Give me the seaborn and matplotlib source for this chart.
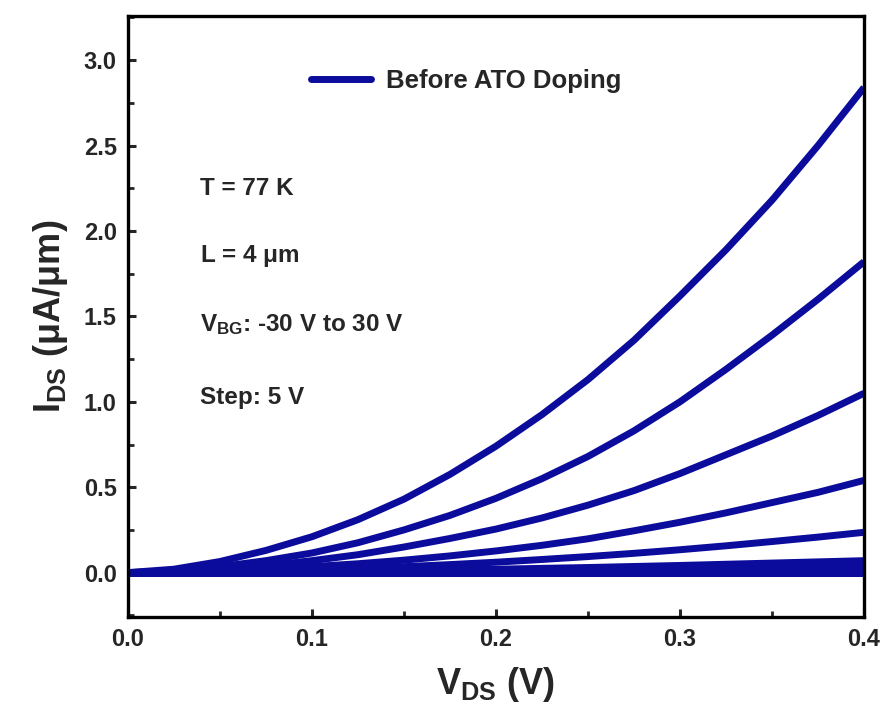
import numpy as np
import pandas as pd
import matplotlib
matplotlib.use("Agg")
import matplotlib.pyplot as plt
from matplotlib.lines import Line2D
from matplotlib.ticker import MultipleLocator, FormatStrFormatter
import seaborn as sns

# ---- data ----
vds = [0, 0.025, 0.05, 0.075, 0.1, 0.125, 0.15, 0.175, 0.2, 0.225, 0.25,
       0.275, 0.3, 0.325, 0.35, 0.375, 0.4]
vbg_values = [30, 25, 20, 15, 10, 5, 0, -5, -10, -15, -20, -25, -30]
ids_30 = [0, 0.02, 0.065, 0.13, 0.21, 0.31, 0.43, 0.575, 0.74, 0.925, 1.13, 1.36, 1.62, 1.89, 2.18, 2.50, 2.84]
ids_25 = [0, 0.01, 0.035, 0.07, 0.115, 0.175, 0.25, 0.335, 0.435, 0.55, 0.68, 0.83, 1.00, 1.19, 1.39, 1.60, 1.82]
ids_20 = [0, 0.005, 0.018, 0.04, 0.07, 0.105, 0.15, 0.20, 0.255, 0.32, 0.395, 0.48, 0.58, 0.69, 0.80, 0.92, 1.05]
ids_15 = [0, 0.003, 0.01, 0.02, 0.035, 0.052, 0.073, 0.098, 0.127, 0.16, 0.198, 0.245, 0.295, 0.35, 0.41, 0.47, 0.54]
ids_10 = [0, 0.001, 0.005, 0.01, 0.017, 0.025, 0.035, 0.047, 0.061, 0.077, 0.094, 0.113, 0.134, 0.157, 0.182, 0.208, 0.236]
ids_5 = [0, 0, 0.002, 0.004, 0.006, 0.009, 0.012, 0.016, 0.02, 0.025, 0.03, 0.036, 0.042, 0.049, 0.056, 0.063, 0.07]
ids_0 = [0, 0, 0.001, 0.002, 0.003, 0.004, 0.005, 0.007, 0.009, 0.011, 0.013, 0.016, 0.019, 0.022, 0.026, 0.03, 0.034]
ids_m5 = [0, 0, 0, 0.001, 0.001, 0.002, 0.002, 0.003, 0.004, 0.005, 0.006, 0.007, 0.008, 0.009, 0.011, 0.013, 0.015]
ids_m10 = [0, 0, 0, 0, 0, 0.001, 0.001, 0.001, 0.001, 0.001, 0.002, 0.002, 0.002, 0.003, 0.003, 0.004, 0.005]
ids_m15 = [0, 0, 0, 0, 0, 0, 0, 0, 0, 0, 0, 0, 0.001, 0.001, 0.001, 0.001, 0.001]
ids_m20 = [0] * 17
ids_m25 = [0] * 17
ids_m30 = [0] * 17
series = [ids_30, ids_25, ids_20, ids_15, ids_10, ids_5, ids_0,
          ids_m5, ids_m10, ids_m15, ids_m20, ids_m25, ids_m30]
legend_label = "Before ATO Doping"
annotations = ["T = 77 K", r"L = 4 $\mu$m", r"V$_{\mathrm{BG}}$: -30 V to 30 V", "Step: 5 V"]

rows = []
for vbg, ys in zip(vbg_values, series):
    for x, y in zip(vds, ys):
        rows.append({"VDS": x, "IDS": y, "VBG": vbg})
df = pd.DataFrame(rows)

# ---- style ----
sns.set_theme(style="ticks")
plt.rcParams["font.family"] = ["Liberation Sans", "DejaVu Sans"]
plt.rcParams["font.weight"] = "bold"
plt.rcParams["mathtext.fontset"] = "custom"
plt.rcParams["mathtext.rm"] = "Liberation Sans:bold"
plt.rcParams["mathtext.it"] = "Liberation Sans:bold"
plt.rcParams["mathtext.bf"] = "Liberation Sans:bold"
plt.rcParams["mathtext.sf"] = "Liberation Sans:bold"

color = "#0b0b9c"

fig = plt.figure(figsize=(8.88, 7.15), dpi=100)
ax = fig.add_axes([0.144, 0.137, 0.829, 0.841])

sns.lineplot(data=df, x="VDS", y="IDS", hue="VBG", units="VBG", estimator=None,
             palette=[color] * len(vbg_values), linewidth=5.0, legend=False, ax=ax,
             solid_capstyle="butt", solid_joinstyle="round")

ax.set_xlim(0, 0.4)
ax.set_ylim(-0.26, 3.26)
ax.xaxis.set_major_locator(MultipleLocator(0.1))
ax.xaxis.set_minor_locator(MultipleLocator(0.05))
ax.yaxis.set_major_locator(MultipleLocator(0.5))
ax.yaxis.set_minor_locator(MultipleLocator(0.25))
ax.xaxis.set_major_formatter(FormatStrFormatter("%.1f"))
ax.yaxis.set_major_formatter(FormatStrFormatter("%.1f"))

for s in ax.spines.values():
    s.set_linewidth(2.4)
    s.set_color("black")
ax.tick_params(which="major", direction="in", length=6, width=2.2, labelsize=17, pad=8,
               top=False, right=False)
ax.tick_params(which="minor", direction="in", length=4, width=2.0, top=False, right=False)
for lab in ax.get_xticklabels() + ax.get_yticklabels():
    lab.set_fontweight("bold")

ax.set_xlabel(r"V$_{\mathrm{DS}}$ (V)", fontsize=26, fontweight="bold", labelpad=10)
ax.set_ylabel(r"I$_{\mathrm{DS}}$ ($\mu$A/$\mu$m)", fontsize=26, fontweight="bold", labelpad=10)

handle = Line2D([], [], color=color, linewidth=5, solid_capstyle="round")
leg = ax.legend([handle], [legend_label], loc="center left",
                bbox_to_anchor=(0.218, 0.892), frameon=False,
                handlelength=2.3, handletextpad=0.6, prop={"weight": "bold", "size": 18.5})

ys_text = [0.713, 0.600, 0.486, 0.365]
for t, yy in zip(annotations, ys_text):
    ax.text(0.098, yy, t, transform=ax.transAxes, fontsize=17.5, fontweight="bold",
            va="center", ha="left")

fig.savefig("out.png", dpi=100)
